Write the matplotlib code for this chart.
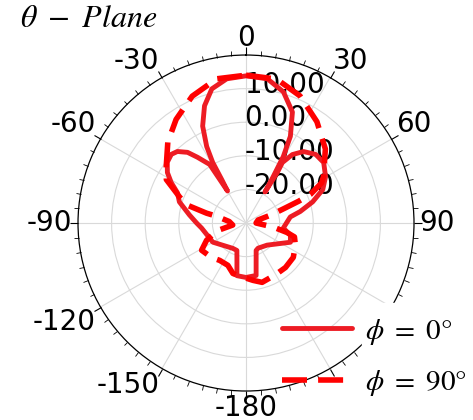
import matplotlib
matplotlib.use("Agg")
import matplotlib.pyplot as plt
import numpy as np

plt.rcParams['mathtext.fontset'] = 'stix'

# phi = 0 deg cut (solid), angle in deg, gain in dB, in drawing order
theta_phi0 = [31.5, 31.8, 31.0, 34.1, 38.8, 45.4, 52.1, 59.8, 66.5, 72.4, 78.0, 82.2,
              97.7, 105.3, 113.4, 136.3, 154.4, 159.7, 165.6, 169.1, 180.0, -170.2,
              -167.0, -161.6, -152.5, -120.0, -96.5, -90.0, -81.9, -72.4, -66.2, -61.6,
              -57.3, -52.4, -47.4, -43.8, -39.6, -36.4, -31.8, -30.0, -29.2, -28.8,
              -27.2, -24.1, -19.5, -14.3, -7.6, 0.0, 8.4, 15.9, 22.7, 27.1, 29.3,
              30.4, 31.5]
gain_phi0 = [-19.1, -12.3, -9.0, -5.4, -2.7, -0.9, -0.7, -2.6, -5.1, -9.2, -13.5, -16.7,
             -18.8, -16.3, -15.6, -20.9, -21.7, -21.3, -17.9, -14.1, -13.8, -14.1,
             -18.0, -21.4, -21.5, -18.6, -16.7, -15.3, -13.0, -9.2, -7.7, -4.7,
             -2.2, -0.4, 0.2, -0.5, -2.7, -5.7, -9.5, -19.0, -15.2, -9.4,
             -4.4, 1.6, 7.0, 11.2, 13.3, 13.8, 13.4, 10.6, 5.8, -1.0, -7.3,
             -14.0, -19.1]

# phi = 90 deg cut (dashed)
theta_phi90 = [0.0, 12.0, 23.0, 35.0, 47.0, 59.0, 62.0, 66.0, 67.5, 69.0, 72.0, 76.0,
               90.0, 98.4, 103.0, 106.0, 114.2, 126.0, 138.4, 150.0, 164.8, 173.0,
               -171.0, -165.4, -156.8, -144.9, -135.0, -121.5, -113.6, -105.0, -98.7,
               -85.0, -77.0, -76.0, -73.0, -68.5, -61.4, -55.0, -44.0, -34.0, -23.0,
               -11.5, 0.0]
gain_phi90 = [14.0, 13.8, 11.1, 6.8, 2.3, -3.1, -4.5, -9.0, -13.0, -17.5, -22.0, -26.3,
              -27.0, -21.8, -17.5, -15.0, -13.9, -12.6, -12.3, -12.3, -11.7, -12.8,
              -14.2, -14.5, -16.3, -16.4, -15.5, -14.5, -17.2, -21.0, -26.0,
              -25.0, -21.0, -17.9, -11.5, -8.7, -3.0, -1.0, 3.5, 7.2, 11.0,
              13.8, 14.0]

theta_ticks = [0, 30, 60, 90, 120, 150, 180, 210, 240, 270, 300, 330]
theta_labels = ['0', '30', '60', '90', '', '', '-180', '-150', '-120', '-90', '-60', '-30']
r_ticks = [-20, -10, 0, 10]
r_labels = ['-20.00', '-10.00', '0.00', '10.00']
r_min, r_max = -30, 20

fig = plt.figure(figsize=(4.73, 4.2), dpi=100)
ax = fig.add_axes([0.1649, 0.069, 0.7104, 0.8], projection='polar')
ax.set_theta_zero_location('N')
ax.set_theta_direction(-1)
ax.set_rlim(r_min, r_max)

ax.plot(np.unwrap(np.radians(theta_phi0)), gain_phi0, color='#ed1c24', lw=3.5,
        solid_joinstyle='round', solid_capstyle='round', label=r'$\phi\ =\ 0°$', zorder=3)
ax.plot(np.unwrap(np.radians(theta_phi90)), gain_phi90, color='#ff0000', lw=4,
        dashes=(4.5, 2), label=r'$\phi\ =\ 90°$', zorder=3)

ax.set_xticks(np.radians(theta_ticks))
ax.set_xticklabels([])
ax.set_xticks(np.radians(np.arange(0, 360, 5)), minor=True)
ax.tick_params(axis='x', which='both', top=True, bottom=False)
ax.tick_params(axis='x', which='major', direction='out', length=6, width=0.8, colors='black')
ax.tick_params(axis='x', which='minor', direction='out', length=3.5, width=0.6, colors='black')
ax.set_yticks(r_ticks)
ax.set_yticklabels([])
ax.grid(True, color='#d9d9d9', lw=0.8)
ax.spines['polar'].set_color('black')
ax.spines['polar'].set_linewidth(0.9)

for deg, lab in zip(theta_ticks, theta_labels):
    a = np.radians(deg)
    s, c = np.sin(a), np.cos(a)
    ha = 'center' if abs(s) < 0.1 else ('left' if s > 0 else 'right')
    va = 'center' if abs(c) < 0.1 else ('bottom' if c > 0 else 'top')
    ax.annotate(lab, xy=(a, r_max), xytext=(4 * s, 2 * c), textcoords='offset points',
                ha=ha, va=va, fontsize=20, annotation_clip=False)

for r, lab in zip(r_ticks, r_labels):
    ax.annotate(lab, xy=(0, r), xytext=(-1, -3), textcoords='offset points',
                ha='left', va='baseline', fontsize=20, zorder=2)

fig.text(0.042, 0.957, r'$\theta\ -\ Plane$', fontsize=23, ha='left', va='center')

# white patch where the legend sits over the circle in the original
fig.patches.append(plt.Rectangle((362 / 473, 1 - 347 / 420), 111 / 473, 44 / 420,
                                 transform=fig.transFigure, color='white', zorder=1))
fig.legend(loc='center left', bbox_to_anchor=(282 / 473, 1 - 357.5 / 420), frameon=False,
           fontsize=21, handlelength=2.4, handletextpad=0.45, labelspacing=0.75,
           borderpad=0, borderaxespad=0)

fig.savefig('out.png', dpi=100)
